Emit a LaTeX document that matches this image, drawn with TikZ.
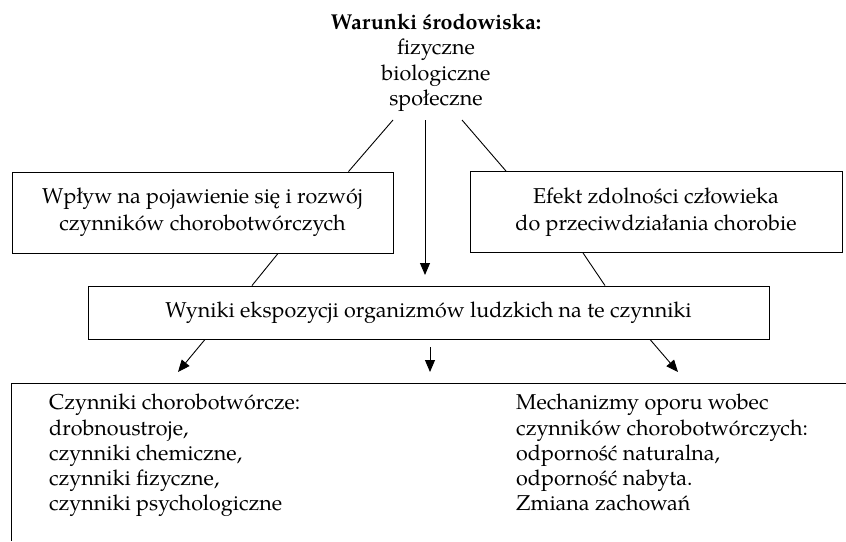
\documentclass[tikz,border=0pt]{standalone}
\usepackage{fontspec}
\setmainfont{TeX Gyre Pagella}
\usetikzlibrary{arrows.meta}
\tikzset{
  boxnode/.style={draw, line width=0.9pt, inner sep=0pt, align=center,
    font=\fontsize{21.5}{27}\selectfont},
  plaintext/.style={inner sep=0pt, font=\fontsize{21.5}{25.2}\selectfont},
  conn/.style={line width=0.9pt},
  arr/.style={line width=0.9pt, -{Triangle[length=12pt,width=10pt]}}
}
\begin{document}
\begin{tikzpicture}[x=1pt,y=-1pt]
\useasboundingbox (0,0) rectangle (846,541);
% top text
\node[plaintext, align=center, anchor=north] (top) at (436,14)
  {\textbf{Warunki środowiska:}\\fizyczne\\biologiczne\\społeczne};
\coordinate (tl) at (393,120);
\coordinate (tm) at (425,120);
\coordinate (tr) at (462,120);
% boxes
\node[boxnode, minimum width=381pt, minimum height=81pt] (b1) at (202.5,212.5)
  {Wpływ na pojawienie się i rozwój\\czynników chorobotwórczych};
\node[boxnode, minimum width=372pt, minimum height=81pt] (b2) at (656,212)
  {Efekt zdolności człowieka\\do przeciwdziałania chorobie};
\node[boxnode, minimum width=681pt, minimum height=53pt] (m) at (428.5,312.5)
  {Wyniki ekspozycji organizmów ludzkich na te czynniki};
% bottom open box
\draw[conn] (846,383) -- (11,383) -- (11,541);
\node[plaintext, align=left, anchor=north west] (bl) at (49,394)
  {Czynniki chorobotwórcze:\\drobnoustroje,\\czynniki chemiczne,\\czynniki fizyczne,\\czynniki psychologiczne};
\node[plaintext, align=left, anchor=north west] (br) at (516,394)
  {Mechanizmy oporu wobec\\czynników chorobotwórczych:\\odporność naturalna,\\odporność nabyta.\\Zmiana zachowań};
% connectors
\draw[conn] (tl) -- ([xshift=146pt]b1.north);
\draw[conn] (tr) -- ([xshift=-150pt]b2.north);
\coordinate (mt) at (425,275);
\draw[arr] (tm) -- (mt);
\draw[conn] ([xshift=75.5pt]b1.south) -- ([xshift=-176.5pt]m.north);
\draw[conn] ([xshift=-73pt]b2.south) -- ([xshift=176.5pt]m.north);
\coordinate (a1) at (178,372);
\coordinate (a2) at (430,372);
\coordinate (a3) at (678,372);
\coordinate (s2) at (430,347);
\draw[arr] ([xshift=-223.5pt]m.south) -- (a1);
\draw[arr] (s2) -- (a2);
\draw[arr] ([xshift=221.5pt]m.south) -- (a3);
\end{tikzpicture}
\end{document}
